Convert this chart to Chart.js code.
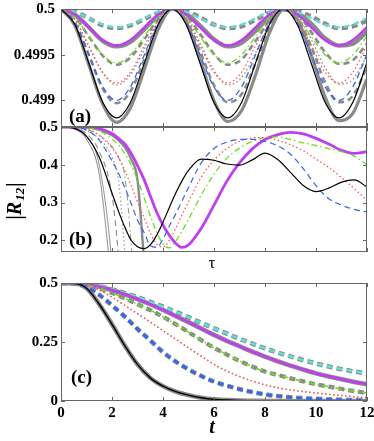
<!DOCTYPE html>
<html>
<head>
<meta charset="utf-8">
<script src="https://cdn.jsdelivr.net/npm/chart.js@4.4.1/dist/chart.umd.min.js"></script>
<style>
  body { margin: 0; background: #fff; }
  canvas { position: absolute; left: 0; top: 0; }
</style>
</head>
<body>
<canvas id="pa" width="374" height="441"></canvas>
<canvas id="pb" width="374" height="441"></canvas>
<canvas id="pc" width="374" height="441"></canvas>
<script>
// x ticks shared by all three panels
const xTicks = [0, 2, 4, 6, 8, 10, 12];
const yTicksA = [0.499, 0.4995, 0.5];
const yTicksB = [0.2, 0.3, 0.4, 0.5];
const yTicksC = [0, 0.25, 0.5];

// panel (a) - sampled at 1/8 of the oscillation period
const tA = [0, 0.545, 1.09, 1.635, 2.18, 2.725, 3.27, 3.815, 4.36, 4.905, 5.45, 5.995, 6.54, 7.085, 7.63, 8.175, 8.72, 9.265, 9.81, 10.355, 10.9, 11.445, 11.99];
const aBlack  = [0.5,0.49983,0.49941,0.49898,0.49881,0.49898,0.49941,0.49983,0.5,0.49983,0.49941,0.49898,0.49881,0.49898,0.49941,0.49983,0.5,0.49983,0.49941,0.49898,0.49881,0.49898,0.49941];
const aBlue   = [0.5,0.49985,0.4995,0.49915,0.499,0.49915,0.4995,0.49985,0.5,0.49985,0.4995,0.49915,0.499,0.49915,0.4995,0.49985,0.5,0.49985,0.4995,0.49915,0.499,0.49915,0.4995];
const aRed    = [0.5,0.49988,0.4996,0.49931,0.49919,0.49931,0.4996,0.49988,0.5,0.49988,0.4996,0.49931,0.49919,0.49931,0.4996,0.49988,0.5,0.49988,0.4996,0.49931,0.49919,0.49931,0.4996];
const aGreen  = [0.5,0.49991,0.4997,0.4995,0.49941,0.4995,0.4997,0.49991,0.5,0.49991,0.4997,0.4995,0.49941,0.4995,0.4997,0.49991,0.5,0.49991,0.4997,0.4995,0.49941,0.4995,0.4997];
const aPurple = [0.5,0.49994,0.4998,0.49966,0.4996,0.49966,0.4998,0.49994,0.5,0.49994,0.4998,0.49966,0.4996,0.49966,0.4998,0.49994,0.5,0.49994,0.4998,0.49966,0.4996,0.49966,0.4998];
const aCyan   = [0.5,0.49997,0.4999,0.49983,0.4998,0.49983,0.4999,0.49997,0.5,0.49997,0.4999,0.49983,0.4998,0.49983,0.4999,0.49997,0.5,0.49997,0.4999,0.49983,0.4998,0.49983,0.4999];
const aGrayBlack  = [0.5,0.49982,0.49939,0.49896,0.49876,0.49892,0.49934,0.49978,0.5,0.49986,0.49945,0.499,0.49877,0.49889,0.49928,0.49974,0.49999,0.49989,0.4995,0.49904,0.49878,0.49886,0.49923];
const aGrayBlue   = [0.5,0.49985,0.4995,0.49913,0.49897,0.4991,0.49945,0.49982,0.5,0.49988,0.49954,0.49917,0.49898,0.49907,0.49941,0.49979,0.49999,0.49991,0.49959,0.4992,0.49898,0.49905,0.49936];
const aGrayRed    = [0.5,0.49988,0.49959,0.4993,0.49917,0.49928,0.49956,0.49986,0.5,0.49991,0.49963,0.49933,0.49917,0.49925,0.49952,0.49983,0.49999,0.49993,0.49967,0.49936,0.49918,0.49923,0.49949];
const aGrayGreen  = [0.5,0.49991,0.4997,0.49949,0.49939,0.49947,0.49967,0.49989,0.5,0.49993,0.49973,0.49951,0.49939,0.49945,0.49965,0.49987,0.5,0.49995,0.49975,0.49953,0.4994,0.49944,0.49962];
const aGrayPurple = [0.5,0.49994,0.4998,0.49965,0.49959,0.49964,0.49978,0.49993,0.5,0.49995,0.49982,0.49967,0.49959,0.49963,0.49976,0.49991,0.5,0.49996,0.49984,0.49968,0.4996,0.49962,0.49975];
const aGrayCyan   = [0.5,0.49997,0.4999,0.49982,0.49979,0.49982,0.49989,0.49996,0.5,0.49998,0.49991,0.49983,0.49979,0.49981,0.49988,0.49996,0.5,0.49998,0.49992,0.49984,0.49979,0.49981,0.49987];

// panel (b)
const tB = [0,0.5,1,1.5,2,2.25,2.5,2.75,3,3.25,3.5,3.75,4,4.25,4.5,4.75,5,5.5,6,6.5,7,7.5,8,8.5,9,9.5,10,10.5,11,11.5,12];
const bBlack  = [0.5,0.497,0.475,0.42,0.325,0.278,0.235,0.2,0.183,0.178,0.188,0.213,0.248,0.287,0.325,0.358,0.385,0.415,0.412,0.402,0.399,0.413,0.431,0.414,0.38,0.345,0.329,0.338,0.354,0.36,0.341];
const bBlue   = [0.5,0.499,0.492,0.465,0.41,0.378,0.34,0.298,0.253,0.222,0.186,0.181,0.203,0.238,0.27,0.305,0.34,0.405,0.443,0.46,0.467,0.467,0.462,0.45,0.428,0.39,0.345,0.31,0.293,0.282,0.275];
const bRed    = [0.5,0.5,0.495,0.478,0.445,0.42,0.385,0.345,0.302,0.26,0.22,0.19,0.182,0.2,0.232,0.268,0.302,0.368,0.412,0.443,0.462,0.471,0.472,0.465,0.453,0.437,0.415,0.393,0.366,0.337,0.306];
const bGreen  = [0.5,0.5,0.498,0.49,0.468,0.453,0.43,0.4,0.36,0.315,0.265,0.222,0.19,0.18,0.198,0.225,0.255,0.32,0.375,0.417,0.444,0.462,0.472,0.474,0.467,0.458,0.451,0.443,0.435,0.423,0.4];
const bPurple = [0.5,0.5,0.5,0.496,0.483,0.47,0.455,0.43,0.398,0.362,0.318,0.275,0.24,0.213,0.192,0.181,0.188,0.232,0.293,0.356,0.405,0.442,0.467,0.48,0.486,0.482,0.47,0.455,0.438,0.43,0.435];
// grey curves leave the bottom of the panel
const bGraySolid1  = [0.5,0.495,0.468,0.375,0.08];
const bGraySolid2  = [0.5,0.497,0.476,0.4,0.14,-0.1];
const bGrayDash    = [0.5,0.498,0.482,0.435,0.32,0.16,-0.1];
const bGrayDot     = [0.5,0.499,0.49,0.468,0.42,0.36,0.17,-0.1];
const bGrayDashDot = [0.5,0.5,0.494,0.478,0.448,0.42,0.37,0.19,-0.1];
const bGrayThick   = [0.5,0.5,0.499,0.493,0.478,0.465,0.447,0.415,0.36,0.15,-0.1];

// panel (c)
const tC = [0,0.5,1,1.5,2,2.5,3,3.5,4,4.5,5,5.5,6,6.5,7,7.5,8,8.5,9,9.5,10,10.5,11,11.5,12];
const cBlack  = [0.5,0.499,0.478,0.41,0.325,0.235,0.155,0.098,0.063,0.04,0.025,0.014,0.007,0.004,0.002,0.001,0,0,0,0,0,0,0,0,0];
const cBlue   = [0.5,0.499,0.483,0.45,0.405,0.358,0.305,0.257,0.207,0.167,0.134,0.106,0.082,0.065,0.05,0.038,0.028,0.021,0.016,0.012,0.009,0.007,0.005,0.004,0.003];
const cRed    = [0.5,0.5,0.49,0.47,0.44,0.405,0.37,0.335,0.298,0.262,0.225,0.19,0.155,0.127,0.104,0.085,0.068,0.056,0.047,0.04,0.034,0.028,0.023,0.018,0.014];
const cGreen  = [0.5,0.499,0.492,0.478,0.458,0.435,0.41,0.385,0.357,0.325,0.292,0.258,0.225,0.197,0.17,0.146,0.125,0.11,0.096,0.083,0.071,0.061,0.051,0.042,0.034];
const cPurple = [0.5,0.5,0.495,0.484,0.47,0.452,0.432,0.41,0.386,0.36,0.334,0.307,0.28,0.255,0.232,0.209,0.188,0.168,0.15,0.133,0.117,0.104,0.092,0.081,0.071];
const cCyan   = [0.5,0.5,0.496,0.486,0.473,0.457,0.44,0.42,0.4,0.378,0.355,0.331,0.308,0.286,0.264,0.243,0.223,0.205,0.189,0.173,0.159,0.146,0.135,0.125,0.116];

const BLACK = "#000000", GRAY = "#8a8a8a", BLUE = "#3366ee", RED = "#ff5555",
      GREEN = "#6cdc1e", PURPLE = "#bf3ff0", CYAN = "#5fded6";
const DASH = [6, 4], DOT = [1.5, 2.5], DASHDOT = [6, 3, 1.5, 3];
const SERIF = '"Liberation Serif", "DejaVu Serif", serif';

// build a line dataset from the x grid and one value list
function line(xs, ys, color, width, dash) {
  return {
    data: ys.map((v, i) => ({ x: xs[i], y: v })),
    borderColor: color,
    borderWidth: width,
    borderDash: dash || [],
    pointRadius: 0,
    fill: false,
    cubicInterpolationMode: "monotone",
  };
}

// box with inward ticks on all four sides, plus free text
function framePlugin(yTicks, texts) {
  return {
    id: "frame",
    afterDatasetsDraw(chart) {
      const ctx = chart.ctx;
      const { left, right, top, bottom } = chart.chartArea;
      const xs = chart.scales.x, ys = chart.scales.y;
      ctx.save();
      ctx.strokeStyle = "#666";
      ctx.lineWidth = 1;
      ctx.strokeRect(left + 0.5, top + 0.5, right - left - 1, bottom - top - 1);
      ctx.beginPath();
      xTicks.forEach(v => {
        const px = Math.round(xs.getPixelForValue(v)) + 0.5;
        ctx.moveTo(px, bottom); ctx.lineTo(px, bottom - 4);
        ctx.moveTo(px, top); ctx.lineTo(px, top + 4);
      });
      yTicks.forEach(v => {
        const py = Math.round(ys.getPixelForValue(v)) + 0.5;
        ctx.moveTo(left, py); ctx.lineTo(left + 4, py);
        ctx.moveTo(right, py); ctx.lineTo(right - 4, py);
      });
      ctx.stroke();
      ctx.restore();
    },
    afterDraw(chart) {
      const ctx = chart.ctx;
      ctx.save();
      ctx.fillStyle = "#000";
      ctx.textBaseline = "middle";
      texts.forEach(t => {
        ctx.font = t.font;
        ctx.textAlign = t.align || "center";
        ctx.fillText(t.text, t.x, t.y);
      });
      ctx.restore();
    },
  };
}

function makeChart(id, datasets, yMin, yMax, yTicks, padTop, padBottom, showX, yPad, texts, extra) {
  const plugins = [framePlugin(yTicks, texts)];
  if (extra) plugins.push(extra);
  return new Chart(document.getElementById(id), {
    type: "line",
    data: { datasets: datasets },
    options: {
      responsive: false,
      animation: false,
      events: [],
      layout: { padding: { top: padTop, bottom: padBottom, left: 0, right: 7 } },
      plugins: { legend: { display: false }, tooltip: { enabled: false } },
      scales: {
        x: {
          type: "linear",
          min: 0, max: 12,
          grid: { display: false, drawTicks: false },
          border: { display: false },
          ticks: {
            display: showX,
            stepSize: 2,
            padding: 3,
            maxRotation: 0,
            autoSkip: false,
            color: "#000",
            font: { family: SERIF, size: 15, weight: "bold" },
          },
          afterFit(s) {
            s.height = showX ? 30 : 0;
            s.paddingLeft = 0;
            s.paddingRight = 0;
          },
        },
        y: {
          min: yMin, max: yMax,
          grid: { display: false, drawTicks: false },
          border: { display: false },
          afterBuildTicks(s) { s.ticks = yTicks.map(v => ({ value: v })); },
          ticks: {
            padding: yPad,
            color: "#000",
            font: { family: SERIF, size: 15, weight: "bold" },
            callback: v => String(v),
          },
          afterFit(s) {
            s.width = 61;
            s.paddingTop = 0;
            s.paddingBottom = 0;
          },
        },
      },
    },
    plugins: plugins,
  });
}

// (a)
makeChart("pa", [
  line(tA, aBlack, BLACK, 1.2),
  line(tA, aBlue, BLUE, 1.3, DASH),
  line(tA, aRed, RED, 1.3, DOT),
  line(tA, aGreen, GREEN, 1.3, DASHDOT),
  line(tA, aPurple, PURPLE, 2.5),
  line(tA, aCyan, CYAN, 2.2, DASH),
  line(tA, aGrayBlack, GRAY, 3.2),
  line(tA, aGrayBlue, GRAY, 2.6, DASH),
  line(tA, aGrayRed, GRAY, 1.3, DOT),
  line(tA, aGrayGreen, GRAY, 2.6, DASH),
  line(tA, aGrayPurple, GRAY, 4.2),
  line(tA, aGrayCyan, GRAY, 4.2, DASH),
], 0.49871, 0.5, yTicksA, 9, 314, false, 6,
  [{ text: "(a)", x: 69, y: 117, font: "bold 19px " + SERIF, align: "left" }]);

// (b)
const rLabel = {
  id: "rlabel",
  afterDraw(chart) {
    const ctx = chart.ctx;
    ctx.save();
    ctx.translate(16, 201);
    ctx.rotate(-Math.PI / 2);
    ctx.fillStyle = "#000";
    ctx.textBaseline = "middle";
    ctx.textAlign = "left";
    const big = "bold italic 20px " + SERIF, small = "bold italic 13px " + SERIF;
    ctx.font = big;
    const w1 = ctx.measureText("|R").width;
    ctx.font = small;
    const w2 = ctx.measureText("12").width;
    ctx.font = big;
    const w3 = ctx.measureText("|").width;
    let x = -(w1 + w2 + w3 + 2) / 2;
    ctx.fillText("|R", x, 0);
    x += w1 + 1;
    ctx.font = small;
    ctx.fillText("12", x, 5);
    x += w2 + 1;
    ctx.font = big;
    ctx.fillText("|", x, 0);
    ctx.restore();
  },
};
makeChart("pb", [
  line(tB, bBlack, BLACK, 1.2),
  line(tB, bBlue, BLUE, 1.2, DASH),
  line(tB, bRed, RED, 1.3, DOT),
  line(tB, bGreen, GREEN, 1.3, DASHDOT),
  line(tB, bPurple, PURPLE, 2.8),
  line(tB, bGraySolid1, "#9a9a9a", 1.1),
  line(tB, bGraySolid2, "#9a9a9a", 1.1),
  line(tB, bGrayDash, "#8a8a8a", 1.1, DASH),
  line(tB, bGrayDot, "#9a9a9a", 1.2, DOT),
  line(tB, bGrayDashDot, "#9a9a9a", 1.1, DASHDOT),
  line(tB, bGrayThick, GRAY, 2.4),
], 0.169, 0.5, yTicksB, 127, 189, false, 3,
  [{ text: "(b)", x: 69, y: 240, font: "bold 19px " + SERIF, align: "left" },
   { text: "τ", x: 212, y: 264, font: "17px " + SERIF }], rLabel);

// (c)
makeChart("pc", [
  line(tC, cBlack, BLACK, 1.4),
  line(tC, cBlue, BLUE, 2.6, DASH),
  line(tC, cRed, RED, 1.4, DOT),
  line(tC, cGreen, GREEN, 1.6, DASHDOT),
  line(tC, cPurple, PURPLE, 2.6),
  line(tC, cCyan, CYAN, 2.6, DASH),
  line(tC, cBlack, GRAY, 4.5),
  line(tC, cBlue, GRAY, 4.6, DASH),
  line(tC, cRed, "#b0b0b0", 1.4, DOT),
  line(tC, cGreen, GRAY, 4.2, DASH),
  line(tC, cPurple, GRAY, 4.6),
  line(tC, cCyan, GRAY, 4.6, DASH),
], 0, 0.5, yTicksC, 283, 10, true, 3,
  [{ text: "(c)", x: 71, y: 378, font: "bold 19px " + SERIF, align: "left" },
   { text: "t", x: 212, y: 428, font: "bold italic 20px " + SERIF }]);
</script>
</body>
</html>
